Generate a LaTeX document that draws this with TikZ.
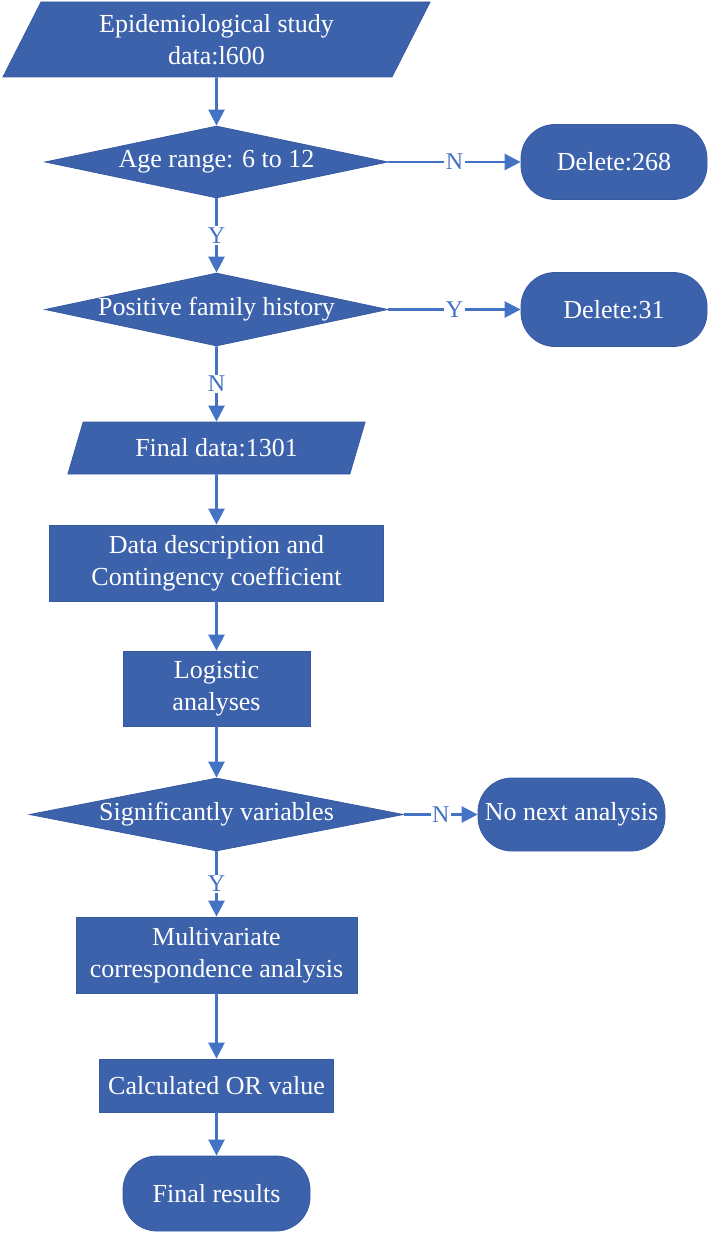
\documentclass[tikz,border=0pt]{standalone}
\usepackage{fontspec}
\setmainfont{Liberation Serif}
\usetikzlibrary{shapes.geometric,arrows.meta}
\definecolor{boxfill}{RGB}{61,98,172}
\definecolor{boxline}{RGB}{55,90,162}
\definecolor{arrowblue}{RGB}{68,114,196}
\begin{document}
\begin{tikzpicture}[x=1pt,y=-1pt,
  every node/.style={font=\fontsize{26}{32}\selectfont, text=white},
  base/.style={fill=boxfill, draw=boxline, line width=0.8pt, inner sep=0pt, align=center},
  iobox/.style={base, shape=trapezium, trapezium left angle=63.2, trapezium right angle=116.8, trapezium stretches=true},
  decision/.style={base, shape=diamond},
  process/.style={base, shape=rectangle},
  terminal/.style={base, shape=rectangle, rounded corners=34pt},
  flow/.style={draw=arrowblue, line width=2.6pt, -{Triangle[width=16pt,length=16pt]}},
  lbl/.style={fill=white, text=arrowblue, font=\fontsize{24}{28}\selectfont, inner sep=1.5pt}
]
\useasboundingbox (0,0) rectangle (709,1233);

\node[iobox, minimum width=428pt, minimum height=75pt] (p1) at (216.5,39.5) {Epidemiological study\\data:l600};
\node[decision, minimum width=343pt, minimum height=72pt, label=center:{Age range: 6 to 12}] (d1) at (216.5,162) {};
\node[terminal, minimum width=186pt, minimum height=75pt] (x1) at (614,162) {Delete:268};
\node[decision, minimum width=343pt, minimum height=73pt, label=center:{Positive family history}] (d2) at (216.5,309.5) {};
\node[terminal, minimum width=186pt, minimum height=74pt] (x2) at (614,309.5) {Delete:31};
\node[iobox, minimum width=298pt, minimum height=52pt] (p2) at (216.5,448) {Final data:1301};
\node[process, minimum width=334pt, minimum height=76pt] (r1) at (216.5,563) {Data description and\\Contingency coefficient};
\node[process, minimum width=187pt, minimum height=75pt] (r2) at (216.5,688.5) {Logistic\\analyses};
\node[decision, minimum width=374pt, minimum height=73pt, label=center:{Significantly variables}] (d3) at (216.5,814.5) {};
\node[terminal, minimum width=187pt, minimum height=73pt] (x3) at (571.5,814.5) {No next analysis};
\node[process, minimum width=281pt, minimum height=76pt] (r3) at (216.5,955) {Multivariate\\correspondence analysis};
\node[process, minimum width=234pt, minimum height=53pt] (r4) at (216.5,1085.5) {Calculated OR value};
\node[terminal, minimum width=187pt, minimum height=75pt] (fin) at (216.5,1193.5) {Final results};

\draw[flow] (p1.south) -- (d1.north);
\draw[flow] (d1.east) -- node[lbl] {N} (x1.west);
\draw[flow] (d1.south) -- node[lbl] {Y} (d2.north);
\draw[flow] (d2.east) -- node[lbl] {Y} (x2.west);
\draw[flow] (d2.south) -- node[lbl] {N} (p2.north);
\draw[flow] (p2.south) -- (r1.north);
\draw[flow] (r1.south) -- (r2.north);
\draw[flow] (r2.south) -- (d3.north);
\draw[flow] (d3.east) -- node[lbl] {N} (x3.west);
\draw[flow] (d3.south) -- node[lbl] {Y} (r3.north);
\draw[flow] (r3.south) -- (r4.north);
\draw[flow] (r4.south) -- (fin.north);
\end{tikzpicture}
\end{document}
